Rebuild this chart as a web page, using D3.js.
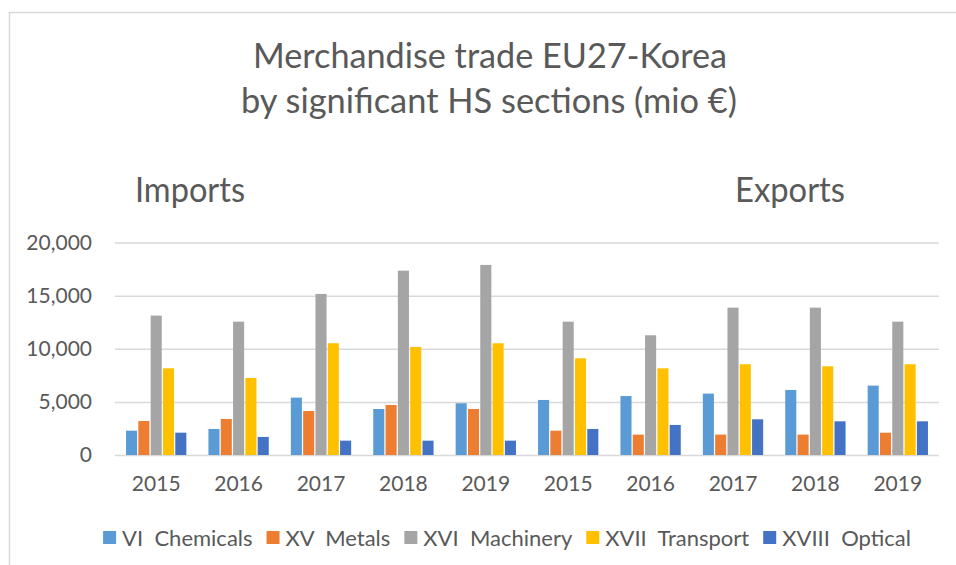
<!DOCTYPE html>
<html>
<head>
<meta charset="utf-8">
<title>Merchandise trade EU27-Korea</title>
<style>
  body { margin: 0; background: #fff; }
  svg text { font-family: Lato, "Open Sans", sans-serif; fill: #595959; }
</style>
</head>
<body>
<script src="https://d3js.org/d3.v7.min.js"></script>
<script>
// data (mio €)
const flows = ["Imports", "Imports", "Imports", "Imports", "Imports",
               "Exports", "Exports", "Exports", "Exports", "Exports"];
const years = ["2015", "2016", "2017", "2018", "2019", "2015", "2016", "2017", "2018", "2019"];
const seriesNames = ["VI  Chemicals", "XV  Metals", "XVI  Machinery", "XVII  Transport", "XVIII  Optical"];
const chemicals = [2290, 2450, 5400, 4330, 4870, 5180, 5550, 5780, 6120, 6530];
const metals    = [3200, 3390, 4140, 4710, 4330, 2290, 1920, 1920, 1920, 2100];
const machinery = [13120, 12550, 15160, 17350, 17890, 12550, 11270, 13870, 13870, 12550];
const transport = [8160, 7250, 10520, 10170, 10520, 9100, 8160, 8540, 8350, 8540];
const optical   = [2100, 1700, 1350, 1350, 1350, 2450, 2830, 3360, 3170, 3170];
const yTicks = [0, 5000, 10000, 15000, 20000];
const colors = ["#5B9BD5", "#ED7D31", "#A5A5A5", "#FFC000", "#4472C4"];

const seriesValues = [chemicals, metals, machinery, transport, optical];

const width = 956, height = 565;
const plot = {left: 115, right: 939, top: 242.5, bottom: 455};

const svg = d3.select("body").append("svg")
    .attr("width", width)
    .attr("height", height);

// chart border
svg.append("path")
    .attr("d", `M9.5,${height} V12.5 H${width}`)
    .attr("fill", "none")
    .attr("stroke", "#d9d9d9")
    .attr("stroke-width", 1.5);

// scales
const keys = years.map((y, i) => i);
const x0 = d3.scaleBand()
    .domain(keys)
    .range([plot.left, plot.right])
    .paddingInner(0.268)
    .paddingOuter(0.134);
const x1 = d3.scaleBand()
    .domain(d3.range(seriesNames.length))
    .range([0, x0.bandwidth()])
    .paddingInner(0.1);
const y = d3.scaleLinear()
    .domain([0, 20000])
    .range([plot.bottom, plot.top]);
const color = d3.scaleOrdinal().domain(d3.range(seriesNames.length)).range(colors);

// titles
const title = svg.append("g").attr("class", "title");
title.append("text")
    .attr("x", 490).attr("y", 68)
    .attr("text-anchor", "middle")
    .attr("font-size", 34)
    .attr("textLength", 474).attr("lengthAdjust", "spacingAndGlyphs")
    .text("Merchandise trade EU27-Korea");
title.append("text")
    .attr("x", 489).attr("y", 113)
    .attr("text-anchor", "middle")
    .attr("font-size", 34)
    .attr("textLength", 496).attr("lengthAdjust", "spacingAndGlyphs")
    .text("by significant HS sections (mio €)");
title.append("text")
    .attr("x", 135).attr("y", 202)
    .attr("font-size", 34)
    .attr("textLength", 110).attr("lengthAdjust", "spacingAndGlyphs")
    .text("Imports");
title.append("text")
    .attr("x", 735).attr("y", 202)
    .attr("font-size", 34)
    .attr("textLength", 110).attr("lengthAdjust", "spacingAndGlyphs")
    .text("Exports");

// y axis + gridlines
const gAxisY = svg.append("g")
    .attr("transform", `translate(${plot.left},0)`)
    .call(d3.axisLeft(y).tickValues(yTicks).tickFormat(d3.format(",")).tickSize(-(plot.right - plot.left)).tickPadding(23))
    .call(g => g.select(".domain").remove())
    .call(g => g.selectAll(".tick line").attr("stroke", "#d9d9d9").attr("stroke-width", 1.5))
    .call(g => g.selectAll(".tick text").attr("font-size", 21).attr("fill", "#595959"));

// x axis labels
const gAxisX = svg.append("g")
    .attr("transform", `translate(0,${plot.bottom})`)
    .call(d3.axisBottom(x0).tickFormat(i => years[i]).tickSize(0).tickPadding(21))
    .call(g => g.select(".domain").remove())
    .call(g => g.selectAll(".tick text").attr("font-size", 21).attr("fill", "#595959"));

// bars
const groups = svg.append("g").attr("class", "bars")
    .selectAll("g")
    .data(keys)
    .join("g")
    .attr("transform", i => `translate(${x0(i)},0)`);
groups.selectAll("rect")
    .data(i => seriesValues.map((vals, s) => ({s, v: vals[i]})))
    .join("rect")
    .attr("x", d => x1(d.s))
    .attr("width", x1.bandwidth())
    .attr("y", d => y(d.v))
    .attr("height", d => y(0) - y(d.v))
    .attr("fill", d => color(d.s));

// legend
const legend = svg.append("g").attr("class", "legend");
const items = legend.selectAll("g")
    .data(seriesNames)
    .join("g");
items.append("rect")
    .attr("width", 13).attr("height", 13)
    .attr("y", -7)
    .attr("fill", (d, i) => color(i));
items.append("text")
    .attr("x", 19)
    .attr("dy", "0.35em")
    .attr("font-size", 22)
    .style("white-space", "pre")
    .text(d => d);
let cursor = 0;
const offsets = [];
items.each(function() {
    offsets.push(cursor);
    const w = d3.select(this).select("text").node().getComputedTextLength();
    cursor += 19 + w + 14;
});
const totalW = cursor - 14;
const legendLeft = 507 - totalW / 2;
items.attr("transform", (d, i) => `translate(${legendLeft + offsets[i]},538)`);
</script>
</body>
</html>
